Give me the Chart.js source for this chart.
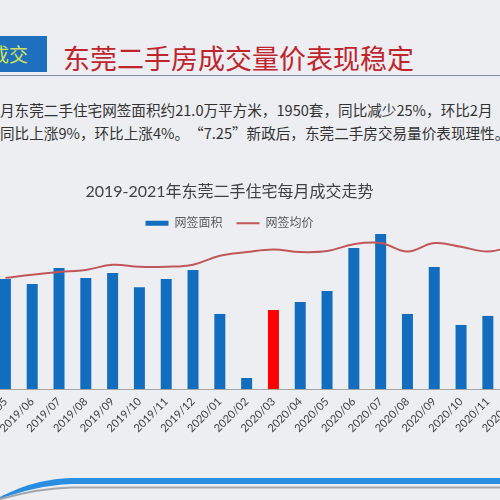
<!DOCTYPE html>
<html>
<head>
<meta charset="utf-8">
<script src="https://cdn.jsdelivr.net/npm/chart.js@4/dist/chart.umd.min.js"></script>
<style>
  html, body { margin:0; padding:0; }
  body { width:500px; height:500px; overflow:hidden; position:relative;
         background:#eceef1; font-family:"Noto Sans CJK SC", sans-serif; }
  .abs { position:absolute; white-space:nowrap; }
  #hdrbox { left:0; top:36px; width:47px; height:36px; background:#1e6fbd; overflow:hidden; }
  #hdrbox span { position:absolute; right:19px; top:0; line-height:36px; font-size:19px; color:#cfe05a; }
  #title { left:63px; top:43px; font-size:27px; line-height:30px; color:#c0252e; }
  #rule { left:0; top:75px; width:500px; height:1px; background:#7f93a6; }
  .para { left:0; font-size:14.6px; line-height:20px; color:#333; }
  .qo { display:inline-block; width:1em; text-align:right; }
  .qc { display:inline-block; width:1em; text-align:left; }
  #wrap { position:absolute; left:-71px; top:170px; width:601px; height:279px; }
</style>
</head>
<body>
<div id="hdrbox" class="abs"><span>成交</span></div>
<div id="title" class="abs">东莞二手房成交量价表现稳定</div>
<div id="rule" class="abs"></div>
<div class="abs para" style="top:100px">月东莞二手住宅网签面积约21.0万平方米，1950套，同比减少25%，环比2月</div>
<div class="abs para" style="top:123px">同比上涨9%，环比上涨4%。<span class="qo">“</span>7.25<span class="qc">”</span>新政后，东莞二手房交易量价表现理性。</div>
<div id="wrap"><canvas id="c"></canvas></div>
<svg class="abs" style="left:0;top:467px" width="500" height="33">
  <path d="M0,30 C18,21 40,12 72,11 L500,11 L500,17 L72,17 C45,18 22,24 0,32 Z" fill="#2a8ee0"/>
  <path d="M0,32 C22,26 45,21 72,20.5 L500,20.5" fill="none" stroke="#a2a6ab" stroke-width="2"/>
</svg>
<script>
const categories = ['2019/05','2019/06','2019/07','2019/08','2019/09','2019/10','2019/11','2019/12',
  '2020/01','2020/02','2020/03','2020/04','2020/05','2020/06','2020/07','2020/08','2020/09','2020/10','2020/11','2020/12'];
// 网签面积 (万平方米)
const areaValues = [39.0, 37.2, 42.9, 39.3, 41.1, 36.1, 39.0, 42.2,
  26.6, 3.9, 28.0, 30.8, 34.7, 50.0, 54.9, 26.6, 43.2, 22.7, 25.9, 33.0];
// 网签均价 (元/平方米)
const priceValues = [21100, 21700, 22200, 22600, 23600, 23200, 23200, 23600,
  25300, 26000, 26500, 26000, 26200, 27500, 27700, 26100, 27700, 27000, 26100, 27200];
const highlightCategory = '2020/03';
const seriesNames = ['网签面积', '网签均价'];
const chartTitle = '2019-2021年东莞二手住宅每月成交走势';

const BLUE = '#136dbf', RED = '#ff0000', LINE = '#c0575a';
const FONT = "Lato, 'Noto Sans CJK SC', sans-serif";

const legendHeightPlugin = {
  id: 'legendHeight',
  beforeLayout(chart) {
    const lg = chart.legend;
    if (lg && !lg._patched) {
      const f = lg.fit;
      lg.fit = function () { f.call(this); this.height = 27.8; };
      lg._patched = true;
    }
  }
};

new Chart(document.getElementById('c'), {
  data: {
    labels: categories,
    datasets: [
      { type: 'bar', label: seriesNames[0], data: areaValues, yAxisID: 'y', order: 1,
        backgroundColor: categories.map(c => c === highlightCategory ? RED : BLUE),
        borderWidth: 0, barPercentage: 0.41, categoryPercentage: 1 },
      { type: 'line', label: seriesNames[1], data: priceValues, yAxisID: 'y1', order: 0,
        borderColor: LINE, backgroundColor: LINE, borderWidth: 2, pointRadius: 0,
        tension: 0.4, fill: false }
    ]
  },
  options: {
    responsive: true, maintainAspectRatio: false, animation: false, devicePixelRatio: 1,
    layout: { padding: 0 },
    plugins: {
      title: { display: true, text: chartTitle, color: '#404040',
        font: { family: FONT, size: 16, weight: 'normal' }, padding: { top: 12, bottom: 2 } },
      legend: { display: true, position: 'top',
        labels: { usePointStyle: true, pointStyleWidth: 23, boxHeight: 5, padding: 14,
          color: '#595959', font: { family: FONT, size: 12 },
          sort: (a, b) => a.datasetIndex - b.datasetIndex,
          generateLabels(chart) {
            const items = Chart.defaults.plugins.legend.labels.generateLabels(chart);
            items.forEach(it => { it.pointStyle = it.datasetIndex === 0 ? 'rect' : 'line'; });
            return items;
          } } },
      tooltip: { enabled: false }
    },
    scales: {
      x: { grid: { display: false, drawTicks: false },
        border: { display: true, color: '#a6a6a6', width: 1 },
        ticks: { autoSkip: false, minRotation: 45, maxRotation: 45, padding: 6,
          color: '#404040', font: { family: FONT, size: 11 } },
        afterFit(s) { s.height = 60; } },
      y: { position: 'left', min: 0, max: 56, display: true,
        grid: { display: false }, border: { display: false }, ticks: { display: false },
        afterFit(s) { s.width = 63; } },
      y1: { position: 'right', min: 0, max: 30000, display: false }
    }
  },
  plugins: [legendHeightPlugin]
});
</script>
</body>
</html>
